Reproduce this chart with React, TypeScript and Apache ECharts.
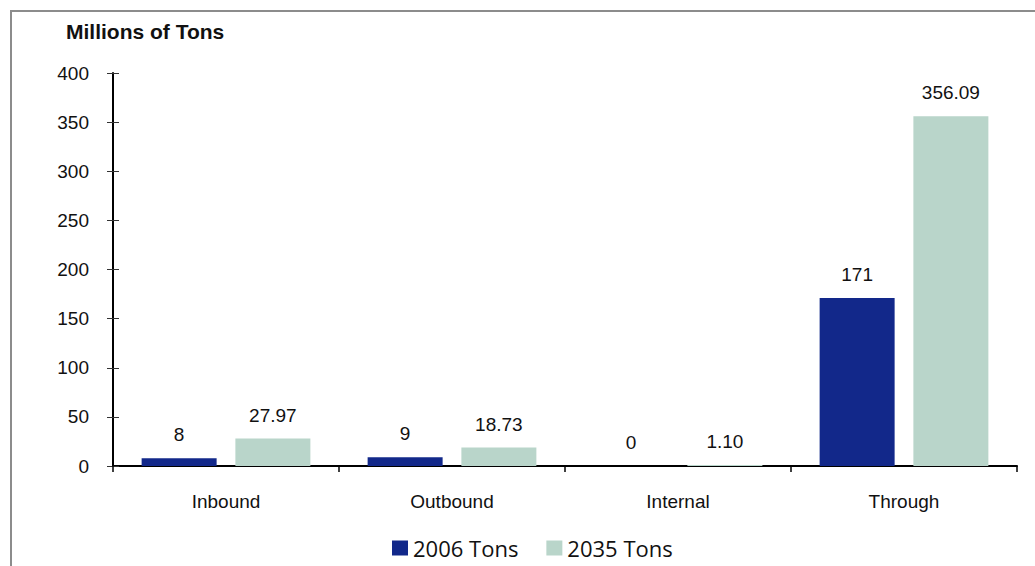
import React, { useEffect, useRef } from "react";
import * as echarts from "echarts";

const categories = ["Inbound", "Outbound", "Internal", "Through"];
const tons2006 = [8, 9, 0, 171];
const tons2035 = [27.97, 18.73, 1.1, 356.09];
const seriesNames = ["2006 Tons", "2035 Tons"];
const yTicks = { min: 0, max: 400, interval: 50 };

const SANS = "'Liberation Sans', Arial, sans-serif";
const NAVY = "#12288a";
const SAGE = "#b9d5ca";

export default function App() {
  const ref = useRef<HTMLDivElement>(null);

  useEffect(() => {
    if (!ref.current) return;
    const chart = echarts.init(ref.current, undefined, { renderer: "svg" });
    const labelStyle = { fontFamily: SANS, fontSize: 19, color: "#111" };
    chart.setOption({
      animation: false,
      backgroundColor: "#fff",
      title: {
        text: "Millions of Tons",
        left: 61,
        top: 16,
        textStyle: { fontFamily: SANS, fontSize: 21, fontWeight: "bold", color: "#111" },
      },
      legend: {
        data: seriesNames,
        left: 387,
        top: 530,
        icon: "rect",
        itemWidth: 16,
        itemHeight: 15,
        itemGap: 28,
        textStyle: { fontFamily: "'Open Sans', 'Noto Sans', sans-serif", fontSize: 22, color: "#111", lineHeight: 26 },
      },
      grid: { left: 113, right: 18, top: 73, bottom: 100, containLabel: false },
      xAxis: {
        type: "category",
        data: categories,
        axisLine: { lineStyle: { color: "#000", width: 2 } },
        axisTick: { show: true, length: 6, lineStyle: { color: "#000", width: 1.5 } },
        axisLabel: { ...labelStyle, margin: 26 },
      },
      yAxis: [
        {
          type: "value",
          ...yTicks,
          splitLine: { show: false },
          axisLine: { show: true, lineStyle: { color: "#000", width: 2 } },
          axisTick: { show: true, length: 6, lineStyle: { color: "#333", width: 1 } },
          axisLabel: { ...labelStyle, margin: 24 },
        },
        {
          type: "value",
          position: "left",
          ...yTicks,
          splitLine: { show: false },
          axisLine: { show: false },
          axisTick: { show: true, inside: true, length: 6, lineStyle: { color: "#333", width: 1 } },
          axisLabel: { show: false },
        },
      ],
      series: [
        {
          name: seriesNames[0],
          type: "bar",
          data: tons2006,
          barWidth: 75,
          barGap: "25%",
          itemStyle: { color: NAVY },
          label: {
            show: true,
            position: "top",
            distance: 14,
            ...labelStyle,
            formatter: (p: any) => String(p.value),
          },
        },
        {
          name: seriesNames[1],
          type: "bar",
          data: tons2035,
          barWidth: 75,
          barGap: "25%",
          itemStyle: { color: SAGE },
          label: {
            show: true,
            position: "top",
            distance: 14,
            ...labelStyle,
            formatter: (p: any) => Number(p.value).toFixed(2),
          },
        },
      ],
      graphic: [
        {
          type: "polyline",
          shape: { points: [[11, 566], [11, 11], [1035, 11]] },
          style: { stroke: "#8c8c8c", lineWidth: 2, fill: "none" },
          silent: true,
        },
      ],
    });
    return () => chart.dispose();
  }, []);

  return (
    <div
      ref={ref}
      style={{ position: "fixed", left: 0, top: 0, width: 1035, height: 566 }}
    />
  );
}
